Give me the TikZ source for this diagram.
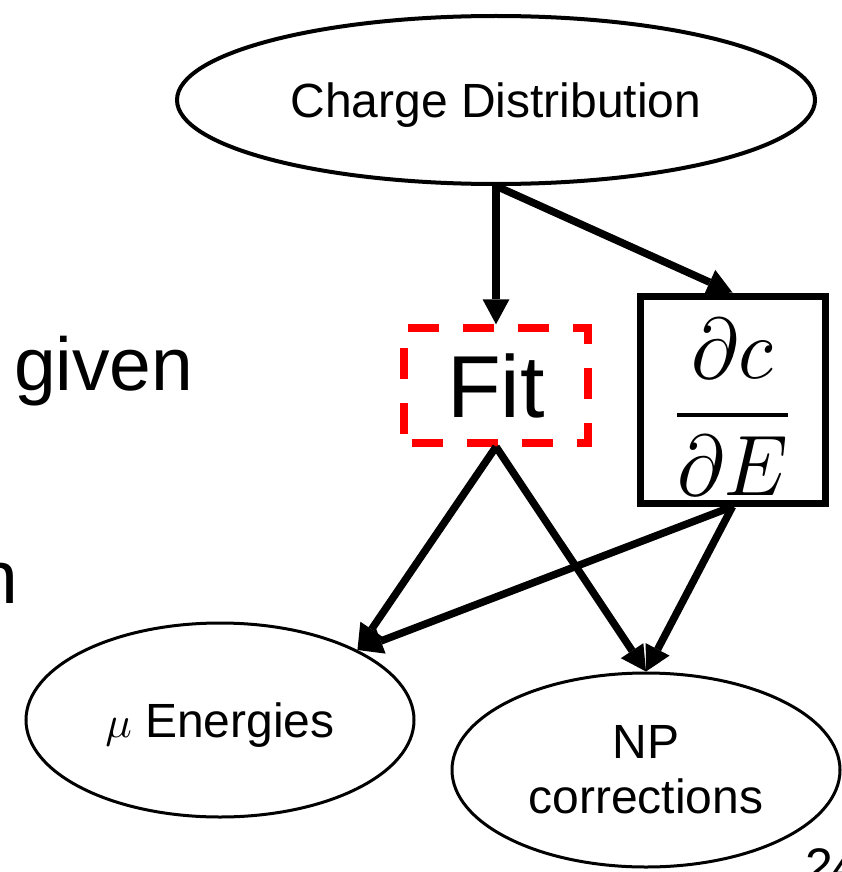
\documentclass[tikz,border=0pt]{standalone}
\usepackage{graphicx}
\usepackage{fontspec}
\setmainfont{Liberation Sans}
\usetikzlibrary{shapes.geometric,arrows.meta}
\newcommand{\smallmath}[2]{\mbox{\fontsize{10}{12}\selectfont\scalebox{#1}{$#2$}}}
\begin{document}
\begin{tikzpicture}[x=1pt,y=-1pt,
  ell/.style={ellipse, draw, line width=3pt, inner sep=0pt,
    minimum width=388pt, minimum height=194pt, align=center,
    font=\fontsize{48}{55}\selectfont},
  conn/.style={line width=7.5pt, -{Triangle[length=25pt,width=27pt,line width=0pt]}},
  plain/.style={inner sep=0pt, outer sep=0pt}
]
\useasboundingbox (0,0) rectangle (841,872);

\node[ell, line width=4pt, minimum width=638pt, minimum height=168pt, text depth=0pt]
  (charge) at (496,100) {Charge Distribution};
\node[ell, text depth=0pt] (mu) at (220,720) {\smallmath{4.4}{\mu} Energies};
\node[ell] (np) at (646,770) {NP\\corrections};

\node[draw=red, line width=7.5pt, dash pattern=on 31pt off 24pt, dash phase=-8pt,
  minimum width=184pt, minimum height=115pt, inner sep=0pt,
  font=\fontsize{88}{95}\selectfont] (fit) at (496,385.5) {Fit};

\node[draw, line width=7pt, minimum width=185pt, minimum height=207pt, inner sep=0pt,
  font=\fontsize{10}{12}\selectfont] (dcde) at (732.5,399.5)
  {\raisebox{-37pt}[0pt][0pt]{\scalebox{8}[8.6]{$\displaystyle\frac{\partial c}{\partial E}$}}\hspace{24pt}};

\draw[conn] (charge.south) -- (fit.north);
\draw[conn] (charge.south) -- (dcde.north);
\draw[conn] (fit.south) -- (mu.27);
\draw[conn] (fit.south) -- (np.north);
\draw[conn] (dcde.south) -- (mu.27);
\draw[conn] (dcde.south) -- (np.north);

\node[plain, anchor=base west, font=\fontsize{75}{80}\selectfont] (given) at (14,390) {given};
\node[plain, anchor=base east, font=\fontsize{75}{80}\selectfont] (nfrag) at (18,603) {n};
\node[plain, anchor=base west, font=\fontsize{50}{55}\selectfont] (page) at (805,883) {24};
\end{tikzpicture}
\end{document}
